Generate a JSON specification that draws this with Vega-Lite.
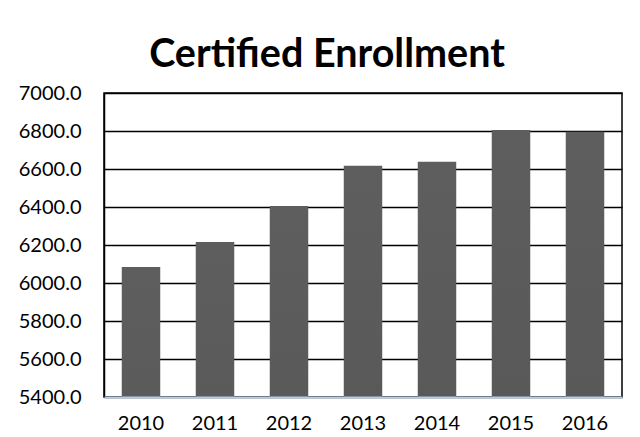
{
  "$schema": "https://vega.github.io/schema/vega-lite/v6.json",
  "width": 518,
  "height": 304,
  "autosize": {"type": "none"},
  "padding": {"left": 104, "top": 93, "right": 18, "bottom": 40},
  "background": "white",
  "title": {
    "text": "Certified Enrollment",
    "font": "Lato",
    "fontSize": 39.5,
    "fontWeight": "bold",
    "color": "black",
    "anchor": "middle",
    "dx": -36,
    "offset": 8
  },
  "data": {
    "values": [
      {"year": "2010", "enrollment": 6084},
      {"year": "2011", "enrollment": 6216},
      {"year": "2012", "enrollment": 6405},
      {"year": "2013", "enrollment": 6617},
      {"year": "2014", "enrollment": 6638},
      {"year": "2015", "enrollment": 6805},
      {"year": "2016", "enrollment": 6796}
    ]
  },
  "mark": {
    "type": "bar",
    "clip": true,
    "color": {
      "gradient": "linear",
      "x1": 0, "y1": 0, "x2": 0, "y2": 1,
      "stops": [
        {"offset": 0, "color": "#5e5e5e"},
        {"offset": 1, "color": "#444444"}
      ]
    }
  },
  "encoding": {
    "x": {
      "field": "year",
      "type": "ordinal",
      "scale": {"paddingInner": 0.48, "paddingOuter": 0.24},
      "axis": {
        "title": null,
        "labelAngle": 0,
        "ticks": false,
        "labelPadding": 16,
        "labelFont": "Lato",
        "labelFontSize": 20,
        "labelColor": "black",
        "domainColor": "#b8cce4",
        "domainWidth": 2,
        "zindex": 1
      }
    },
    "y": {
      "field": "enrollment",
      "type": "quantitative",
      "scale": {"domain": [5400, 7000], "zero": false, "nice": false},
      "axis": {
        "title": null,
        "values": [5400, 5600, 5800, 6000, 6200, 6400, 6600, 6800, 7000],
        "format": ".1f",
        "ticks": false,
        "labelPadding": 23,
        "labelFont": "Lato",
        "labelFontSize": 20,
        "labelColor": "black",
        "domainColor": "black",
        "domainWidth": 1.5,
        "grid": true,
        "gridColor": "black",
        "gridWidth": 1.5
      }
    }
  },
  "config": {
    "view": {"stroke": "black", "strokeWidth": 1.5}
  }
}
